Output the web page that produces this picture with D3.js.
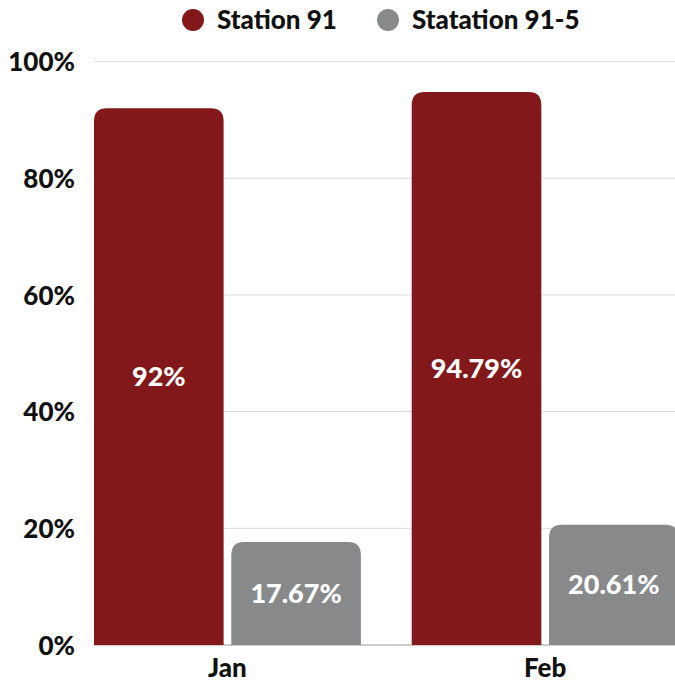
<!DOCTYPE html>
<html><head><meta charset="utf-8">
<script src="https://cdn.jsdelivr.net/npm/d3@7"></script>
<style>body{margin:0;background:#fff}svg{display:block}text{font-family:Lato,"Open Sans",sans-serif;font-weight:900}</style>
</head><body><svg id="c" width="675" height="683"></svg>
<script>
const categories = ["Jan", "Feb"];
const seriesNames = ["Station 91", "Statation 91-5"];
const station91 = [92, 94.79];
const station915 = [17.67, 20.61];
const valueLabels91 = ["92%", "94.79%"];
const valueLabels915 = ["17.67%", "20.61%"];
const yTicks = [0, 20, 40, 60, 80, 100];
const colors = ["#83181a", "#88898b"];

const svg = d3.select("#c");
const y = d3.scaleLinear().domain([0, 100]).range([645, 61.5]);
const x0 = d3.scaleBand().domain(categories).range([94, 678.6]).paddingInner(0.16).paddingOuter(0);
const x1 = d3.scaleBand().domain(seriesNames).range([0, x0.bandwidth()]).paddingInner(0.056);

// gridlines
svg.append("g").selectAll("line").data(yTicks).join("line")
  .attr("x1", 94).attr("x2", 675)
  .attr("y1", d => y(d)).attr("y2", d => y(d))
  .attr("stroke", d => d === 0 ? "#9a9a9a" : "#d9d9d9").attr("stroke-width", 1);

// y labels
const yAxis = d3.axisLeft(y).tickValues(yTicks).tickFormat(d => d + "%").tickSize(0).tickPadding(0);
const ya = svg.append("g").attr("transform", "translate(75,0)").call(yAxis);
ya.select(".domain").remove();
ya.selectAll("text").attr("font-size", 26).attr("fill", "#111").attr("font-family", "Lato").attr("font-weight", 900).attr("dy", "0.35em");

function topRounded(x, yTop, w, yBot, r) {
  r = Math.min(r, w / 2, (yBot - yTop));
  return `M${x},${yBot}V${yTop + r}Q${x},${yTop} ${x + r},${yTop}H${x + w - r}Q${x + w},${yTop} ${x + w},${yTop + r}V${yBot}Z`;
}

const rows = categories.map((c, i) => ({
  cat: c,
  vals: [
    { s: seriesNames[0], v: station91[i], lab: valueLabels91[i], col: colors[0] },
    { s: seriesNames[1], v: station915[i], lab: valueLabels915[i], col: colors[1] }
  ]
}));

const g = svg.append("g").selectAll("g").data(rows).join("g")
  .attr("transform", d => `translate(${x0(d.cat)},0)`);
g.selectAll("path").data(d => d.vals).join("path")
  .attr("d", d => topRounded(x1(d.s), y(d.v), x1.bandwidth(), y(0), 13))
  .attr("fill", d => d.col);
g.selectAll("text").data(d => d.vals).join("text")
  .attr("x", d => x1(d.s) + x1.bandwidth() / 2)
  .attr("y", d => (y(d.v) + y(0)) / 2)
  .attr("dy", "0.35em").attr("text-anchor", "middle")
  .attr("fill", "#fff").attr("font-size", 27)
  .text(d => d.lab);

// x axis labels
const xa = svg.append("g").attr("transform", "translate(0,668)")
  .call(d3.axisBottom(x0).tickSize(0).tickPadding(0));
xa.select(".domain").remove();
xa.selectAll("text").attr("font-size", 26).attr("fill", "#111").attr("font-family", "Lato").attr("font-weight", 900).attr("dy", "0.35em");

// legend
const legendItems = [
  { name: seriesNames[0], col: colors[0], cx: 193 },
  { name: seriesNames[1], col: colors[1], cx: 388 }
];
const lg = svg.append("g").selectAll("g").data(legendItems).join("g")
  .attr("transform", d => `translate(${d.cx},20)`);
lg.append("circle").attr("r", 11).attr("fill", d => d.col);
lg.append("text").attr("x", 24).attr("dy", "0.35em").attr("font-size", 26).attr("fill", "#111").text(d => d.name);
</script></body></html>
